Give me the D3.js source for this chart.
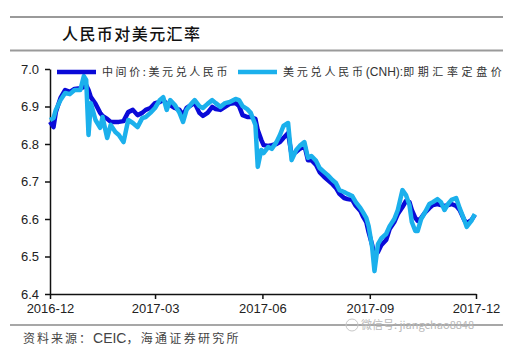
<!DOCTYPE html>
<html>
<head>
<meta charset="utf-8">
<script src="https://d3js.org/d3.v7.min.js"></script>
<style>
  body { margin: 0; background: #fff; }
  svg { display: block; }
  .axis text { font-family: "Liberation Sans", Arial, sans-serif; font-size: 13px; fill: #222; }
  .axis path, .axis line { stroke: #111; stroke-width: 1.5px; }
</style>
</head>
<body>
<svg width="515" height="361"></svg>
<script>
// 日期（约每周取样，突变处加点）
const dates = [
  "2016-12-01","2016-12-04","2016-12-06","2016-12-10","2016-12-14","2016-12-18","2016-12-22","2016-12-27","2016-12-30",
  "2017-01-01","2017-01-03","2017-01-05","2017-01-09","2017-01-13","2017-01-15","2017-01-19","2017-01-22","2017-01-26","2017-01-29",
  "2017-02-02","2017-02-06","2017-02-10","2017-02-14","2017-02-18","2017-02-21","2017-02-25",
  "2017-03-01","2017-03-05","2017-03-08","2017-03-11","2017-03-14","2017-03-18","2017-03-22","2017-03-25","2017-03-28",
  "2017-04-01","2017-04-04","2017-04-08","2017-04-11","2017-04-15","2017-04-19","2017-04-22","2017-04-26","2017-04-30",
  "2017-05-04","2017-05-09","2017-05-12","2017-05-15","2017-05-19","2017-05-22","2017-05-26","2017-05-28","2017-05-31",
  "2017-06-02","2017-06-06","2017-06-09","2017-06-13","2017-06-16","2017-06-19","2017-06-23","2017-06-26","2017-06-30",
  "2017-07-03","2017-07-07","2017-07-10","2017-07-13","2017-07-17","2017-07-20","2017-07-24","2017-07-27","2017-07-31",
  "2017-08-03","2017-08-06","2017-08-10","2017-08-13","2017-08-17","2017-08-20","2017-08-24","2017-08-26","2017-08-29","2017-08-31",
  "2017-09-03","2017-09-05","2017-09-08","2017-09-11","2017-09-15","2017-09-18","2017-09-22","2017-09-25","2017-09-29",
  "2017-10-02","2017-10-05","2017-10-07","2017-10-10","2017-10-12","2017-10-15","2017-10-18","2017-10-22","2017-10-25","2017-10-29",
  "2017-11-01","2017-11-04","2017-11-07","2017-11-10","2017-11-14","2017-11-17","2017-11-21","2017-11-23","2017-11-27","2017-11-30"
]

// 中间价:美元兑人民币
const cnyMid = [
  6.859,6.845,6.885,6.923,6.944,6.939,6.947,6.949,6.952,
  6.957,6.944,6.925,6.907,6.883,6.875,6.867,6.859,6.859,6.859,
  6.861,6.885,6.891,6.877,6.883,6.891,6.896,
  6.909,6.912,6.917,6.907,6.904,6.896,6.891,6.877,6.896,
  6.904,6.909,6.883,6.875,6.883,6.899,6.893,6.891,6.899,
  6.907,6.909,6.901,6.877,6.872,6.872,6.867,6.837,6.811,
  6.797,6.795,6.797,6.800,6.805,6.816,6.829,6.771,6.779,
  6.787,6.797,6.757,6.757,6.744,6.725,6.712,6.704,6.693,
  6.683,6.667,6.656,6.653,6.651,6.635,6.621,6.608,6.592,6.565,
  6.531,6.504,6.512,6.531,6.544,6.573,6.592,6.613,6.632,
  6.648,6.645,6.624,6.603,6.595,6.603,6.616,6.629,6.637,6.640,
  6.637,6.635,6.637,6.640,6.635,6.624,6.597,6.589,6.597,6.611
]

// 美元兑人民币(CNH):即期汇率定盘价
const cnhFix = [
  6.864,6.869,6.891,6.917,6.936,6.933,6.944,6.944,6.981,
  6.971,6.824,6.909,6.864,6.843,6.872,6.816,6.851,6.832,6.824,
  6.805,6.864,6.856,6.845,6.869,6.872,6.883,
  6.896,6.917,6.925,6.891,6.917,6.904,6.883,6.859,6.891,
  6.907,6.917,6.901,6.896,6.907,6.917,6.909,6.899,6.909,
  6.912,6.920,6.917,6.901,6.893,6.883,6.851,6.739,6.784,
  6.776,6.792,6.787,6.805,6.824,6.848,6.856,6.757,6.784,
  6.795,6.805,6.763,6.768,6.755,6.736,6.725,6.717,6.704,
  6.696,6.677,6.672,6.667,6.661,6.645,6.629,6.619,6.603,6.581,
  6.525,6.461,6.533,6.549,6.560,6.581,6.600,6.624,6.677,
  6.664,6.637,6.592,6.568,6.568,6.600,6.616,6.640,6.645,6.653,
  6.645,6.624,6.640,6.651,6.656,6.629,6.597,6.579,6.595,6.613
]

const yTicks = [6.4, 6.5, 6.6, 6.7, 6.8, 6.9, 7.0]
const xTicks = ["2016-12-01", "2017-03-01", "2017-06-01", "2017-09-01", "2017-12-01"]

const seriesColors = ["#0a0ad8", "#1bb0ec"]

const parse = d3.timeParse("%Y-%m-%d")
const svg = d3.select("svg")

// 标题与分隔线
svg.append("line").attr("x1", 10).attr("x2", 503).attr("y1", 17).attr("y2", 17)
  .attr("stroke", "#9a9a9a").attr("stroke-width", 2)
svg.append("line").attr("x1", 10).attr("x2", 503).attr("y1", 50.5).attr("y2", 50.5)
  .attr("stroke", "#9a9a9a").attr("stroke-width", 2)
svg.append("text").attr("x", 62).attr("y", 40)
  .attr("font-family", "Noto Sans CJK SC").attr("font-size", 16).attr("font-weight", 500)
  .attr("textLength", 138).attr("lengthAdjust", "spacing")
  .attr("fill", "#111").text("人民币对美元汇率")

const x = d3.scaleTime().domain([parse(xTicks[0]), parse(xTicks[4])]).range([50, 476])
const y = d3.scaleLinear().domain([6.4, 7.0]).range([294, 69])

svg.append("g").attr("class", "axis")
  .attr("transform", "translate(50,0)")
  .call(d3.axisLeft(y).tickValues(yTicks).tickFormat(d3.format(".1f")).tickSize(5).tickSizeOuter(0).tickPadding(6))

svg.append("g").attr("class", "axis")
  .attr("transform", "translate(0,294)")
  .call(d3.axisBottom(x).tickValues(xTicks.map(parse)).tickFormat(d3.timeFormat("%Y-%m")).tickSize(5).tickSizeOuter(0).tickPadding(5))

const line = d3.line().x(d => x(d[0])).y(d => y(d[1]))
const parsedDates = dates.map(parse)

;[cnyMid, cnhFix].forEach((vals, i) => {
  svg.append("path")
    .datum(parsedDates.map((d, j) => [d, vals[j]]))
    .attr("fill", "none")
    .attr("stroke", seriesColors[i])
    .attr("stroke-width", 4.5)
    .attr("stroke-linejoin", "round")
    .attr("d", line)
})

// 图例（中文字间距拉开，拉丁字符保持紧凑）
const legendParts = [
  [["中间价:美元兑人民币", 2.6]],
  [["美元兑人民币", 2.8], ["(CNH):", 0], ["即期汇率定盘价", 3.6]]
]
const legendX = [57, 238]
legendParts.forEach((parts, i) => {
  svg.append("line").attr("x1", legendX[i]).attr("x2", legendX[i] + 39)
    .attr("y1", 72).attr("y2", 72)
    .attr("stroke", seriesColors[i]).attr("stroke-width", 4.5)
  const t = svg.append("text").attr("x", legendX[i] + 45).attr("y", 76)
    .attr("font-family", "Noto Sans CJK SC").attr("font-size", 11).attr("fill", "#333")
  parts.forEach(p => {
    t.append("tspan").attr("letter-spacing", p[1])
      .attr("font-family", p[1] ? "Noto Sans CJK SC" : "Liberation Sans")
      .attr("font-size", p[1] ? 11 : 12)
      .text(p[0])
  })
})

// 底部来源
svg.append("line").attr("x1", 10).attr("x2", 503).attr("y1", 325).attr("y2", 325)
  .attr("stroke", "#8a8a8a").attr("stroke-width", 1.5)
const src = svg.append("text").attr("x", 23).attr("y", 343)
  .attr("font-family", "Noto Sans CJK SC").attr("font-size", 12).attr("fill", "#444")
src.append("tspan").attr("letter-spacing", 2).text("资料来源：")
src.append("tspan").attr("font-family", "Liberation Sans").attr("font-size", 14).text("CEIC")
src.append("tspan").attr("letter-spacing", 2.3).text("，海通证券研究所")

svg.append("circle").attr("cx", 352).attr("cy", 325).attr("r", 6)
  .attr("fill", "none").attr("stroke", "#c8c8c8").attr("stroke-width", 1)
svg.append("text").attr("x", 361).attr("y", 329)
  .attr("font-family", "Noto Sans CJK SC").attr("font-size", 11)
  .attr("fill", "#b8b8b8").text("微信号: jiangchao8848")
</script>
</body>
</html>
